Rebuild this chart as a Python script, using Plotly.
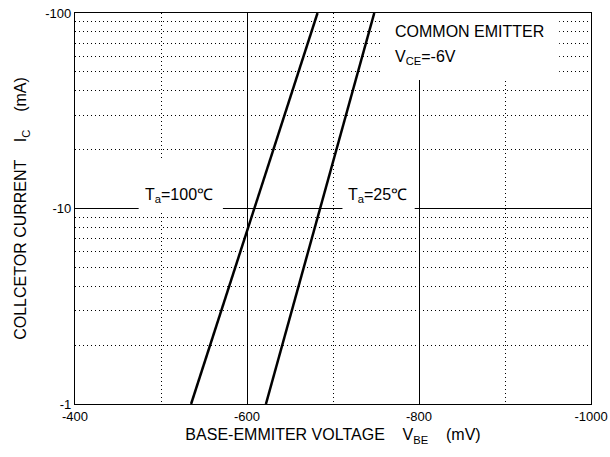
import numpy as np
import plotly.graph_objects as go

# Collector current (mA) sample points
ic_ma = [-1, -2, -5, -10, -20, -50, -100]
# Base-emitter voltage (mV) for each temperature
vbe_100c = [-535, -557, -586, -608, -630, -660, -682]
vbe_25c = [-622, -641, -666, -685, -704, -729, -748]

x_ticks = [-400, -600, -800, -1000]
y_ticks = [1, 10, 100]
y_ticktext = ["-1", "-10", "-100"]

FONT = "Liberation Sans, Arial, sans-serif"
DOT = "1px,3px"

fig = go.Figure()
for v in (vbe_100c, vbe_25c):
    fig.add_trace(go.Scatter(x=v, y=np.abs(ic_ma), mode="lines",
                             line=dict(color="black", width=2.5),
                             showlegend=False, hoverinfo="skip"))

# white label boxes (between grid and traces)
boxes = [(-755, -963, 45.4, 100), (-474, -572, 9.7, 17.7), (-711, -795, 9.7, 17.7)]
for x0, x1, y0, y1 in boxes:
    fig.add_shape(type="rect", xref="x", yref="y", x0=x0, x1=x1, y0=y0, y1=y1,
                  fillcolor="white", line=dict(width=0), layer="between")

ann_font = dict(family=FONT, size=16, color="black")
fig.add_annotation(x=-770, y=np.log10(80), xref="x", yref="y", text="COMMON EMITTER",
                   showarrow=False, xanchor="left", yanchor="middle", font=ann_font)
fig.add_annotation(x=-770, y=np.log10(59), xref="x", yref="y", text="V<sub>CE</sub>=-6V",
                   showarrow=False, xanchor="left", yanchor="middle", font=ann_font)
fig.add_annotation(x=-521, y=np.log10(11.6), xref="x", yref="y", text="T<sub>a</sub>=100℃",
                   showarrow=False, xanchor="center", yanchor="middle", font=ann_font)
fig.add_annotation(x=-752, y=np.log10(11.6), xref="x", yref="y", text="T<sub>a</sub>=25℃",
                   showarrow=False, xanchor="center", yanchor="middle", font=ann_font)

fig.update_layout(
    width=610, height=457,
    margin=dict(l=75, r=19, t=13, b=53),
    paper_bgcolor="white", plot_bgcolor="white",
    font=dict(family=FONT, size=13, color="black"),
)
fig.update_xaxes(
    range=[-400, -1000], tickmode="array", tickvals=x_ticks,
    ticktext=[str(t) for t in x_ticks], automargin=False,
    ticklabeloverflow="allow",
    showgrid=True, gridcolor="black", gridwidth=1,
    showline=True, linecolor="black", linewidth=1.2, mirror=True,
    zeroline=False, ticks="",
    minor=dict(tickmode="array", tickvals=[-500, -700, -900], showgrid=True,
               gridcolor="black", griddash=DOT, gridwidth=1),
    title=dict(text="BASE-EMMITER VOLTAGE    V<sub>BE</sub>    (mV)",
               font=dict(family=FONT, size=16), standoff=6),
)
fig.update_yaxes(
    type="log", range=[0, 2], tickmode="array", tickvals=y_ticks, ticktext=y_ticktext,
    automargin=False, ticklabeloverflow="allow",
    showgrid=True, gridcolor="black", gridwidth=1,
    showline=True, linecolor="black", linewidth=1.2, mirror=True,
    zeroline=False, ticks="",
    minor=dict(tickmode="array",
               tickvals=[2, 3, 4, 5, 6, 7, 8, 9, 20, 30, 40, 50, 60, 70, 80, 90],
               showgrid=True, gridcolor="black", griddash=DOT, gridwidth=1),
    title=dict(text="COLLCETOR CURRENT    I<sub>C</sub>    (mA)",
               font=dict(family=FONT, size=16), standoff=14),
)

fig.write_html("out.html", config={"displayModeBar": False},
               post_script="document.body.style.margin='0';")
